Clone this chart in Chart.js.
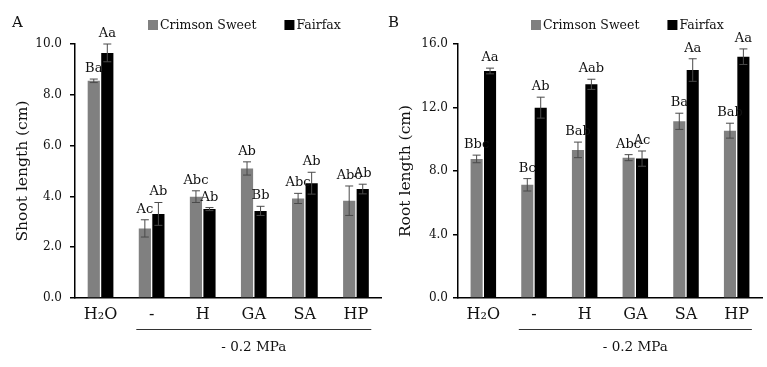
<!DOCTYPE html>
<html><head><meta charset="utf-8">
<script src="https://cdn.jsdelivr.net/npm/chart.js@4/dist/chart.umd.min.js"></script>
<style>
html,body{margin:0;padding:0;background:#fff;width:767px;height:367px;overflow:hidden}
canvas{position:absolute;top:0}
#ca{left:0}#cb{left:383px}
</style></head><body>
<canvas id="ca" width="383" height="367"></canvas>
<canvas id="cb" width="384" height="367"></canvas>
<script>
const categories = ['H\u2082O', '-', 'H', 'GA', 'SA', 'HP'];
const seriesNames = ['Crimson Sweet', 'Fairfax'];
const groupLabel = '- 0.2 MPa';
const groupStart = 1, groupEnd = 5;

const shootCrimson    = [8.55, 2.74, 3.99, 5.10, 3.92, 3.83];
const shootCrimsonErr = [0.07, 0.34, 0.23, 0.26, 0.20, 0.58];
const shootFairfax    = [9.65, 3.31, 3.50, 3.43, 4.52, 4.29];
const shootFairfaxErr = [0.35, 0.45, 0.06, 0.18, 0.43, 0.19];
const shootCrimsonLetters = ['Ba', 'Ac', 'Abc', 'Ab', 'Abc', 'Abc'];
const shootFairfaxLetters = ['Aa', 'Ab', 'Ab', 'Bb', 'Ab', 'Ab'];

const rootCrimson    = [8.76, 7.13, 9.33, 8.84, 11.13, 10.54];
const rootCrimsonErr = [0.24, 0.39, 0.49, 0.19, 0.51, 0.47];
const rootFairfax    = [14.30, 11.99, 13.46, 8.78, 14.36, 15.20];
const rootFairfaxErr = [0.18, 0.66, 0.32, 0.48, 0.71, 0.49];
const rootCrimsonLetters = ['Bbc', 'Bc', 'Bab', 'Abc', 'Ba', 'Bab'];
const rootFairfaxLetters = ['Aa', 'Ab', 'Aab', 'Ac', 'Aa', 'Aa'];

const shootTicks = {max: 10, step: 2};
const rootTicks = {max: 16, step: 4};

const FONT = 'DejaVu Serif';
const TXT = '#111';

const annotPlugin = {
  id: 'annot',
  afterDatasetsDraw(chart) {
    const ctx = chart.ctx, ys = chart.scales.y;
    ctx.save();
    chart.data.datasets.forEach((ds, i) => {
      const meta = chart.getDatasetMeta(i);
      meta.data.forEach((el, j) => {
        const v = ds.data[j], e = ds.errors[j];
        const yt = ys.getPixelForValue(v + e), yb = ys.getPixelForValue(v - e);
        const x = el.x;
        ctx.strokeStyle = '#4a4a4a'; ctx.lineWidth = 1;
        ctx.beginPath();
        ctx.moveTo(x, yt); ctx.lineTo(x, yb);
        ctx.moveTo(x - 4, yt); ctx.lineTo(x + 4, yt);
        ctx.moveTo(x - 4, yb); ctx.lineTo(x + 4, yb);
        ctx.stroke();
        ctx.fillStyle = TXT;
        ctx.font = '13px "' + FONT + '"';
        ctx.textAlign = 'center'; ctx.textBaseline = 'alphabetic';
        ctx.fillText(ds.letters[j], x, yt - 7);
      });
    });
    ctx.restore();
  },
  afterDraw(chart) {
    const o = chart.options.plugins.annot;
    const ctx = chart.ctx, xs = chart.scales.x, ca = chart.chartArea;
    ctx.save();
    const w = (xs.right - xs.left) / chart.data.labels.length;
    const x1 = xs.getPixelForValue(groupStart) - 0.3 * w;
    const x2 = xs.getPixelForValue(groupEnd) + 0.3 * w;
    ctx.strokeStyle = '#333'; ctx.lineWidth = 1;
    ctx.beginPath(); ctx.moveTo(x1, ca.bottom + 31.5); ctx.lineTo(x2, ca.bottom + 31.5); ctx.stroke();
    ctx.fillStyle = TXT;
    ctx.font = '13.5px "' + FONT + '"';
    ctx.textAlign = 'center'; ctx.textBaseline = 'middle';
    ctx.fillText(groupLabel, (x1 + x2) / 2, ca.bottom + 49);
    ctx.font = '15px "' + FONT + '"';
    ctx.textAlign = 'left'; ctx.textBaseline = 'alphabetic';
    ctx.fillText(o.panel, o.panelX, 27);
    ctx.font = '12.5px "' + FONT + '"';
    ctx.textBaseline = 'middle';
    let lx = o.legendX;
    chart.data.datasets.forEach(ds => {
      ctx.fillStyle = ds.backgroundColor;
      ctx.fillRect(lx, 20, 10, 10);
      ctx.fillStyle = TXT;
      ctx.fillText(ds.label, lx + 12, 25.5);
      lx += 12 + ctx.measureText(ds.label).width + 28;
    });
    ctx.restore();
  }
};

function makeChart(id, c, ce, cl, f, fe, fl, tk, title, panel, panelX, padRight, tickPad) {
  return new Chart(document.getElementById(id), {
    type: 'bar',
    data: {
      labels: categories,
      datasets: [
        {label: seriesNames[0], data: c, errors: ce, letters: cl, backgroundColor: '#808080'},
        {label: seriesNames[1], data: f, errors: fe, letters: fl, backgroundColor: '#000000'}
      ]
    },
    options: {
      responsive: false, animation: false,
      layout: {padding: {top: 44, right: padRight, left: 0, bottom: 0}},
      datasets: {bar: {categoryPercentage: 0.53, barPercentage: 0.9}},
      scales: {
        x: {
          grid: {display: false, drawTicks: false},
          border: {display: true, color: '#000', width: 1.5},
          ticks: {font: {family: FONT, size: 16}, color: TXT, padding: 7, maxRotation: 0, autoSkip: false},
          afterFit: s => { s.height = 69; }
        },
        y: {
          min: 0, max: tk.max,
          ticks: {stepSize: tk.step, callback: v => Number(v).toFixed(1), font: {family: FONT, size: 12}, color: TXT, padding: tickPad},
          grid: {display: true, drawOnChartArea: false, drawTicks: true, tickLength: 5, color: '#000', lineWidth: 1.5},
          border: {display: true, color: '#000', width: 1.5},
          title: {display: true, text: title, font: {family: FONT, size: 15.5}, color: TXT, padding: {top: 14, bottom: 0}},
          afterFit: s => { s.width = 75; }
        }
      },
      plugins: {
        legend: {display: false},
        tooltip: {enabled: false},
        annot: {panel: panel, panelX: panelX, legendX: 148}
      }
    },
    plugins: [annotPlugin]
  });
}

makeChart('ca', shootCrimson, shootCrimsonErr, shootCrimsonLetters, shootFairfax, shootFairfaxErr, shootFairfaxLetters,
  shootTicks, 'Shoot length (cm)', 'A', 12, 1.5, 8);
makeChart('cb', rootCrimson, rootCrimsonErr, rootCrimsonLetters, rootFairfax, rootFairfaxErr, rootFairfaxLetters,
  rootTicks, 'Root length (cm)', 'B', 5, 5, 5);
</script>
</body></html>
